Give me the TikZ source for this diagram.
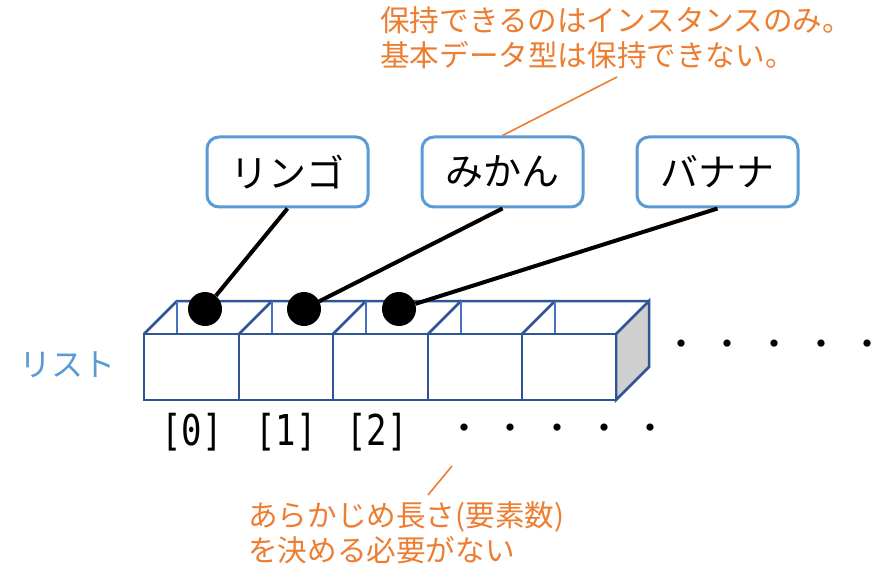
\documentclass[tikz,border=0pt]{standalone}
\usepackage{fontspec}
\usepackage{graphicx}
\newfontfamily\jp{Noto Sans CJK JP}
\newfontfamily\jpdots{Noto Sans CJK JP}[LetterSpace=37.35]
\newfontfamily\mono{DejaVu Sans Mono}
\definecolor{boxblue}{HTML}{5B9BD5}
\definecolor{cubeblue}{HTML}{2F5597}
\definecolor{topblue}{HTML}{4472C4}
\definecolor{noteorange}{HTML}{ED7D31}
\definecolor{sidegray}{HTML}{CFCFCF}
\tikzset{
  fruit/.style={draw=boxblue, line width=3pt, rounded corners=12pt, fill=white,
    minimum width=161pt, minimum height=70pt, inner sep=0pt,
    font=\jp\fontsize{38}{42}\selectfont},
  ref/.style={circle, fill=black, minimum size=34pt, inner sep=0pt},
  conn/.style={line width=4pt, black},
  note/.style={anchor=west, inner sep=0pt, text=noteorange,
    font=\jp\fontsize{29.6}{34}\selectfont},
  noteline/.style={noteorange, line width=1.6pt},
  idx/.style={inner sep=0pt, font=\mono\fontsize{34}{38}\selectfont},
  ell/.style={inner sep=0pt, font=\jpdots\fontsize{34}{38}\selectfont},
  frontface/.style={draw=cubeblue, line width=2.8pt, fill=white},
  topline/.style={draw=cubeblue, line width=2.5pt},
  innerline/.style={draw=topblue, line width=2.5pt},
}
\begin{document}
\begin{tikzpicture}[x=1pt, y=-1pt]
\useasboundingbox (0,0) rectangle (890,569);
\fill[white] (0,0) rectangle (890,569);

% cubes
\def\dep{33}
\foreach \xl/\xr in {144/239, 239/333, 333/428, 428/522, 522/616} {
  \draw[topline] (\xl,334) -- (\xl+\dep,301) -- (\xr+\dep,301);
  \draw[innerline] (\xl+\dep,301) -- (\xl+\dep,334);
}
\draw[topline, fill=sidegray] (616,334) -- (616+\dep,301) -- (616+\dep,367) -- (616,400) -- cycle;
\foreach \xl/\xr in {144/239, 239/333, 333/428, 428/522, 522/616} {
  \draw[frontface] (\xl,334) rectangle (\xr,400);
}

% fruit boxes
\node[fruit] (r) at (287.5,172) {リンゴ};
\node[fruit] (m) at (502.5,172) {みかん};
\node[fruit] (b) at (717.5,172) {バナナ};

% reference dots
\node[ref] (d0) at (205,309) {};
\node[ref] (d1) at (304,309) {};
\node[ref] (d2) at (399,309) {};

\draw[conn] (r.south) -- (d0);
\draw[conn] (m.south) -- (d1);
\draw[conn] (b.south) -- (d2);

% labels
\node[inner sep=0pt, text=boxblue, font=\jp\fontsize{32}{36}\selectfont] (lst) at (67,365) {リスト};
\node[idx] (i0) at (192,432) {\scalebox{1}[1.25]{[0]}};
\node[idx] (i1) at (286,432) {\scalebox{1}[1.25]{[1]}};
\node[idx] (i2) at (377,432) {\scalebox{1}[1.25]{[2]}};
\node[ell] (e1) at (557.5,432) {・・・・・};
\node[ell] (e2) at (774.5,348) {・・・・・};

% notes
\node[note] (n1) at (380,20) {保持できるのはインスタンスのみ。};
\node[note] (n2) at (380,55) {基本データ型は保持できない。};
\coordinate (n2tip) at (617,77);
\draw[noteline] (m.north) -- (n2tip);

\node[note] (n3) at (248,517) {あらかじめ長さ(要素数)};
\node[note] (n4) at (248,550) {を決める必要がない};
\coordinate (n3tip) at (428,495);
\coordinate (e1tip) at (452,466);
\draw[noteline] (e1tip) -- (n3tip);
\end{tikzpicture}
\end{document}
